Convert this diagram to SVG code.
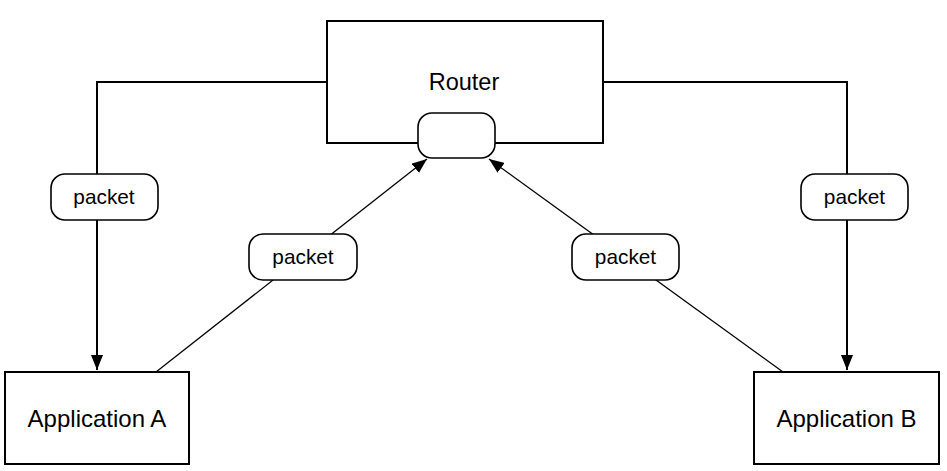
<svg xmlns="http://www.w3.org/2000/svg" width="947" height="471" viewBox="0 0 947 471">
<defs>
<style>
.box{fill:#fff;stroke:#000;stroke-width:2}
.lbl{fill:#fff;stroke:#000;stroke-width:1.6}
.edge{fill:none;stroke:#000;stroke-width:2}
.thin{fill:none;stroke:#000;stroke-width:1.3}
.t{font-family:"Liberation Sans",Arial,sans-serif;text-anchor:middle;fill:#000}
.big{font-size:24px}
.rt{font-size:23.5px}
.small{font-size:20.8px}
</style>
<marker id="ah" markerUnits="userSpaceOnUse" markerWidth="16" markerHeight="12" refX="15" refY="6" orient="auto">
<path d="M0,0 L15,6 L0,12 Z" fill="#000"/>
</marker>
</defs>
<rect width="947" height="471" fill="#fff"/>
<g id="connectors">
<path class="edge" d="M327,82 H97 V370" marker-end="url(#ah)"/>
<path class="edge" d="M603,82 H847 V370" marker-end="url(#ah)"/>
<path class="thin" d="M156,372 L427,159" marker-end="url(#ah)"/>
<path class="thin" d="M783,372 L489,159" marker-end="url(#ah)"/>
</g>
<g id="router">
<rect class="box" x="327" y="21" width="276" height="122"/>
<text class="t rt" x="464" y="90">Router</text>
<rect id="router-port" class="lbl" x="418" y="113" width="77" height="45" rx="14"/>
</g>
<g id="appA">
<rect class="box" x="5" y="372" width="184" height="92"/>
<text class="t big" x="97" y="427">Application A</text>
</g>
<g id="appB">
<rect class="box" x="754" y="372" width="185" height="92"/>
<text class="t big" x="846.5" y="427">Application B</text>
</g>
<g id="label-left">
<rect class="lbl" x="51" y="174" width="107" height="46" rx="14"/>
<text class="t small" x="104" y="204">packet</text>
</g>
<g id="label-midleft">
<rect class="lbl" x="249" y="234" width="108" height="46" rx="14"/>
<text class="t small" x="303" y="264">packet</text>
</g>
<g id="label-midright">
<rect class="lbl" x="572" y="234" width="107" height="46" rx="14"/>
<text class="t small" x="625.5" y="264">packet</text>
</g>
<g id="label-right">
<rect class="lbl" x="801" y="174" width="107" height="46" rx="14"/>
<text class="t small" x="854.5" y="204">packet</text>
</g>
</svg>
